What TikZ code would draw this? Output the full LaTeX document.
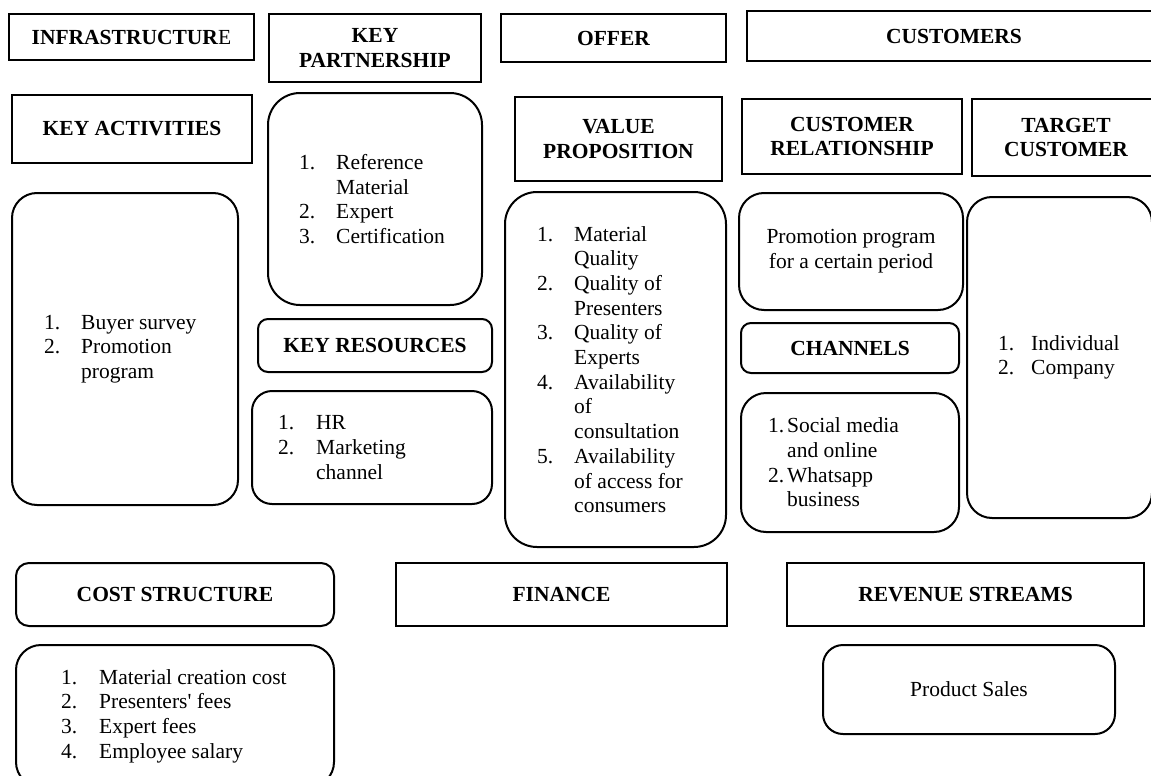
\documentclass[tikz,border=0pt]{standalone}
\usepackage{fontspec}
\setmainfont{Liberation Serif}
\usetikzlibrary{positioning}

\newcommand{\nr}[2][37pt]{\makebox[#1][l]{#2}}

\tikzset{
  base/.style={draw, line width=2pt, inner sep=0pt, font=\fontsize{21.5}{24.7}\selectfont},
  hdr/.style={base, align=center, font=\fontsize{21.5}{24.7}\selectfont\bfseries},
  rbox/.style={base, rounded corners=#1, align=center},
  rbox/.default=25pt,
  txt/.style={inner sep=0pt, align=left, font=\fontsize{21.5}{24.7}\selectfont},
  sz/.style 2 args={minimum width=#1pt, minimum height=#2pt},
}

\begin{document}
\begin{tikzpicture}[x=1pt, y=-1pt]
  \useasboundingbox (0,0) rectangle (1151,776);
  \clip (0,0) rectangle (1151,776);

  % top row
  \node[hdr, sz={245}{46}] (infra) at (131.5,37) {INFRASTRUCTUR\textmd{E}};
  \node[hdr, sz={212}{68}] (kp) at (375,48) {KEY\\PARTNERSHIP};
  \node[hdr, sz={225}{48}] (offer) at (613.5,38) {OFFER};
  \node[hdr, sz={414}{50}] (cust) at (954,36) {CUSTOMERS};

  % second row headers
  \node[hdr, sz={240}{68}] (ka) at (132,129) {KEY ACTIVITIES};
  \node[hdr, sz={207}{84}] (vp) at (618.5,139) {VALUE\\PROPOSITION};
  \node[hdr, sz={220}{75}] (cr) at (852,136.5) {CUSTOMER\\RELATIONSHIP};
  \node[hdr, sz={188}{77}] (tc) at (1066,137.5) {TARGET\\CUSTOMER};

  % key activities
  \node[rbox, sz={226}{312}] (kaB) at (125,349) {};
  \node[txt, right=33pt of kaB.west] (kaT)
    {\nr{1.}Buyer survey\\ \nr{2.}Promotion\\ \nr{}program};

  % key partnership
  \node[rbox=32pt, sz={214}{212}] (kpB) at (375,199) {};
  \node[txt, right=32pt of kpB.west] (kpT)
    {\nr{1.}Reference\\ \nr{}Material\\ \nr{2.}Expert\\ \nr{3.}Certification};

  % key resources
  \node[rbox=10pt, sz={234}{53}, font=\fontsize{21.5}{24.7}\selectfont\bfseries] (kr) at (375,345.5) {KEY RESOURCES};
  \node[rbox=20pt, sz={240}{113}] (krB) at (372,447.5) {};
  \node[txt, right=27pt of krB.west] (krT)
    {\nr[38pt]{1.}HR\\ \nr[38pt]{2.}Marketing\\ \nr[38pt]{}channel};

  % value proposition
  \node[rbox=32pt, sz={221}{355}] (vpB) at (615.5,369.5) {};
  \node[txt, right=33pt of vpB.west] (vpT)
    {\nr{1.}Material\\ \nr{}Quality\\ \nr{2.}Quality of\\ \nr{}Presenters\\
     \nr{3.}Quality of\\ \nr{}Experts\\ \nr{4.}Availability\\ \nr{}of\\
     \nr{}consultation\\ \nr{5.}Availability\\ \nr{}of access for\\ \nr{}consumers};

  % customer relationship and channels
  \node[rbox, sz={224}{117}] (crB) at (851,251.5) {Promotion program\\for a certain period};
  \node[rbox=10pt, sz={218}{50}, font=\fontsize{21.5}{24.7}\selectfont\bfseries] (ch) at (850,348) {CHANNELS};
  \node[rbox, sz={218}{139}] (chB) at (850,462.5) {};
  \node[txt, right=28pt of chB.west] (chT)
    {\nr[19pt]{1.}Social media\\ \nr[19pt]{}and online\\ \nr[19pt]{2.}Whatsapp\\ \nr[19pt]{}business};

  % target customer
  \node[rbox, sz={185}{321}] (tcB) at (1059.5,357.5) {};
  \node[txt, right=32pt of tcB.west] (tcT)
    {\nr[33pt]{1.}Individual\\ \nr[33pt]{2.}Company};

  % bottom row
  \node[rbox=13pt, sz={318}{63}, font=\fontsize{21.5}{24.7}\selectfont\bfseries] (cs) at (175,594.5) {COST STRUCTURE};
  \node[hdr, sz={331}{63}] (fin) at (561.5,594.5) {FINANCE};
  \node[hdr, sz={357}{63}] (rs) at (965.5,594.5) {REVENUE STREAMS};

  \node[rbox, sz={318}{142}] (csB) at (175,716) {};
  \node[txt, right=46pt of csB.west] (csT)
    {\nr[38pt]{1.}Material creation cost\\ \nr[38pt]{2.}Presenters\textquotesingle{} fees\\
     \nr[38pt]{3.}Expert fees\\ \nr[38pt]{4.}Employee salary};

  \node[rbox=20pt, sz={292}{89}] (psB) at (969,689.5) {Product Sales};
\end{tikzpicture}
\end{document}
